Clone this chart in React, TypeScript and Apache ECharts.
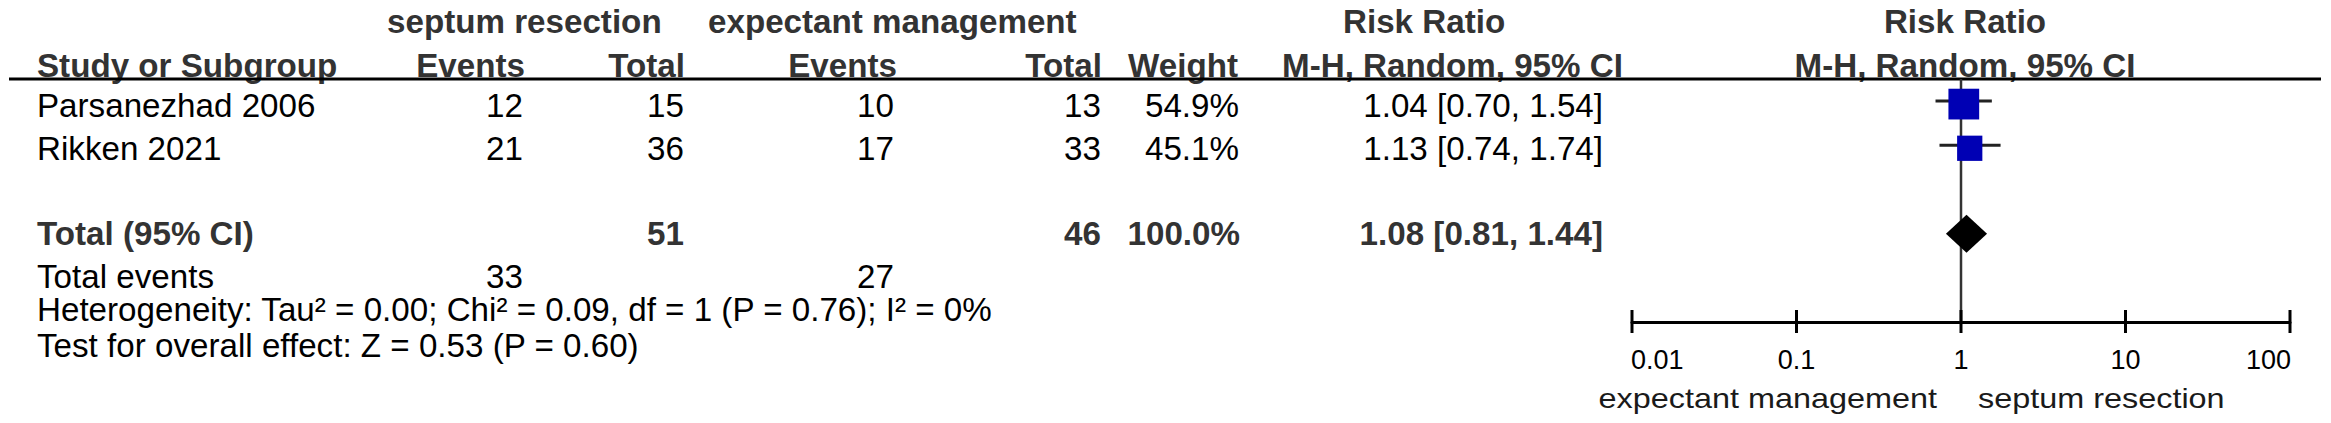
import React, { useEffect, useRef } from 'react';
import * as echarts from 'echarts';

const W = 2331;
const H = 423;
const FONT = "'Liberation Sans', Arial, Helvetica, sans-serif";

// ---- data ----
const studies = ['Parsanezhad 2006', 'Rikken 2021'];
const septumEvents = [12, 21];
const septumTotal = [15, 36];
const expectEvents = [10, 17];
const expectTotal = [13, 33];
const weights = [54.9, 45.1];
const riskRatio = [1.04, 1.13];
const ciLow = [0.7, 0.74];
const ciHigh = [1.54, 1.74];

const totalLabel = 'Total (95% CI)';
const totalSeptum = 51;
const totalExpect = 46;
const totalWeight = 100.0;
const pooledRR = 1.08;
const pooledLow = 0.81;
const pooledHigh = 1.44;
const totalEventsSeptum = 33;
const totalEventsExpect = 27;
const heterogeneityText = 'Heterogeneity: Tau² = 0.00; Chi² = 0.09, df = 1 (P = 0.76); I² = 0%';
const overallText = 'Test for overall effect: Z = 0.53 (P = 0.60)';

const tickValues = [0.01, 0.1, 1, 10, 100];
const tickLabels = ['0.01', '0.1', '1', '10', '100'];
const favoursLeft = 'expectant management';
const favoursRight = 'septum resection';

const groupHeaders = ['septum resection', 'expectant management', 'Risk Ratio'];
const colHeaders = ['Study or Subgroup', 'Events', 'Total', 'Events', 'Total', 'Weight', 'M-H, Random, 95% CI'];

// plot row positions (value-axis units)
const studyRows = [0.5, 1.5];
const totalRow = 3.5;
const Y_MAX = 5.5;

const fmtCI = (r: number, l: number, h: number) => `${r.toFixed(2)} [${l.toFixed(2)}, ${h.toFixed(2)}]`;

const TSIZE = 34;
const TSX = 0.976;

type TOpts = { bold?: boolean; color?: string; size?: number; sx?: number };
const txt = (text: string | number, x: number, y: number, align: string = 'left', o: TOpts = {}) => ({
  type: 'text',
  x,
  y,
  silent: true,
  scaleX: o.sx ?? TSX,
  style: {
    text: String(text),
    font: `${o.bold ? 'bold ' : ''}${o.size ?? TSIZE}px ${FONT}`,
    fill: o.color ?? '#000',
    textAlign: align,
    textVerticalAlign: 'middle',
  },
});

export default function App() {
  const ref = useRef<HTMLDivElement>(null);

  useEffect(() => {
    document.body.style.margin = '0';
    const chart = echarts.init(ref.current!, null, { renderer: 'svg' });

    const HB = { bold: true, color: '#333' };
    const col = { study: 37, e1: 523, t1: 684, e2: 894, t2: 1101, w: 1239, rr: 1603 };
    const rowTextY = [105.5, 148.5];
    const graphic: any[] = [];

    // headers
    const h1 = 21;
    const h2 = 65.5;
    graphic.push(txt(groupHeaders[0], 387, h1, 'left', HB));
    graphic.push(txt(groupHeaders[1], 708, h1, 'left', HB));
    graphic.push(txt(groupHeaders[2], 1343, h1, 'left', HB));
    graphic.push(txt(groupHeaders[2], 1965, h1, 'center', HB));
    graphic.push(txt(colHeaders[0], 37, h2, 'left', HB));
    graphic.push(txt(colHeaders[1], 525, h2, 'right', HB));
    graphic.push(txt(colHeaders[2], 685, h2, 'right', HB));
    graphic.push(txt(colHeaders[3], 897, h2, 'right', HB));
    graphic.push(txt(colHeaders[4], 1102, h2, 'right', HB));
    graphic.push(txt(colHeaders[5], 1238, h2, 'right', HB));
    graphic.push(txt(colHeaders[6], 1282, h2, 'left', HB));
    graphic.push(txt(colHeaders[6], 1965, h2, 'center', HB));
    graphic.push({
      type: 'line',
      silent: true,
      shape: { x1: 9, y1: 79, x2: 2321, y2: 79 },
      style: { stroke: '#000', lineWidth: 3 },
    });

    // study rows
    studies.forEach((s, i) => {
      const y = rowTextY[i];
      graphic.push(txt(s, col.study, y));
      graphic.push(txt(septumEvents[i], col.e1, y, 'right'));
      graphic.push(txt(septumTotal[i], col.t1, y, 'right'));
      graphic.push(txt(expectEvents[i], col.e2, y, 'right'));
      graphic.push(txt(expectTotal[i], col.t2, y, 'right'));
      graphic.push(txt(`${weights[i].toFixed(1)}%`, col.w, y, 'right'));
      graphic.push(txt(fmtCI(riskRatio[i], ciLow[i], ciHigh[i]), col.rr, y, 'right'));
    });

    // total row
    const ty = 233;
    graphic.push(txt(totalLabel, col.study, ty, 'left', HB));
    graphic.push(txt(totalSeptum, col.t1, ty, 'right', HB));
    graphic.push(txt(totalExpect, col.t2, ty, 'right', HB));
    graphic.push(txt(`${totalWeight.toFixed(1)}%`, col.w + 1, ty, 'right', HB));
    graphic.push(txt(fmtCI(pooledRR, pooledLow, pooledHigh), col.rr, ty, 'right', HB));

    graphic.push(txt('Total events', col.study, 276.5));
    graphic.push(txt(totalEventsSeptum, col.e1, 276.5, 'right'));
    graphic.push(txt(totalEventsExpect, col.e2, 276.5, 'right'));
    graphic.push(txt(heterogeneityText, col.study, 309.5));
    graphic.push(txt(overallText, col.study, 345));

    // favours captions
    graphic.push(txt(favoursLeft, 1937, 398, 'right', { size: 27, sx: 1.2, color: '#1a1a1a' }));
    graphic.push(txt(favoursRight, 1978, 398, 'left', { size: 27, sx: 1.2, color: '#1a1a1a' }));

    const option: any = {
      animation: false,
      grid: {
        left: 1632,
        right: W - 2290,
        top: 79,
        bottom: H - 322,
        containLabel: false,
        outerBoundsMode: 'none',
      },
      xAxis: {
        type: 'log',
        logBase: 10,
        min: 0.01,
        max: 100,
        axisLine: { show: true, onZero: false, lineStyle: { color: '#000', width: 3 } },
        axisTick: { show: false },
        axisLabel: { show: false },
        splitLine: { show: false },
      },
      yAxis: { type: 'value', min: 0, max: Y_MAX, inverse: true, show: false },
      series: [
        {
          type: 'line',
          data: [
            [1, 0],
            [1, Y_MAX],
          ],
          symbol: 'none',
          silent: true,
          lineStyle: { color: '#333', width: 2.5 },
          z: 1,
        },
        {
          type: 'custom',
          clip: false,
          silent: true,
          data: studies.map((_, i) => [ciLow[i], ciHigh[i], studyRows[i]]),
          encode: { x: [0, 1], y: 2 },
          renderItem: (_p: any, api: any) => {
            const a = api.coord([api.value(0), api.value(2)]);
            const b = api.coord([api.value(1), api.value(2)]);
            return {
              type: 'line',
              shape: { x1: a[0], y1: a[1], x2: b[0], y2: b[1] },
              style: { stroke: '#222', lineWidth: 3 },
            };
          },
          z: 2,
        },
        {
          type: 'scatter',
          silent: true,
          data: studies.map((_, i) => [riskRatio[i], studyRows[i], weights[i]]),
          symbol: 'rect',
          symbolSize: (v: number[]) => v[2] * 0.56,
          symbolOffset: [0, 3],
          itemStyle: { color: '#0000b4', opacity: 1 },
          z: 3,
        },
        {
          type: 'custom',
          clip: false,
          silent: true,
          data: [[pooledLow, pooledRR, pooledHigh, totalRow]],
          encode: { x: [0, 1, 2], y: 3 },
          renderItem: (_p: any, api: any) => {
            const l = api.coord([api.value(0), api.value(3)]);
            const c = api.coord([api.value(1), api.value(3)]);
            const h = api.coord([api.value(2), api.value(3)]);
            return {
              type: 'polygon',
              shape: {
                points: [
                  [l[0], l[1]],
                  [c[0], c[1] - 19],
                  [h[0], h[1]],
                  [c[0], c[1] + 19],
                ],
              },
              style: { fill: '#000' },
            };
          },
          z: 4,
        },
        {
          type: 'custom',
          clip: false,
          silent: true,
          data: tickValues.map((v) => [v, Y_MAX]),
          encode: { x: 0, y: 1 },
          renderItem: (params: any, api: any) => {
            const p = api.coord([api.value(0), api.value(1)]);
            const i = params.dataIndex;
            const last = tickValues.length - 1;
            const align = i === 0 ? 'left' : i === last ? 'right' : 'center';
            return {
              type: 'group',
              children: [
                {
                  type: 'line',
                  shape: { x1: p[0], y1: p[1] - 12, x2: p[0], y2: p[1] + 11 },
                  style: { stroke: '#000', lineWidth: 3 },
                },
                {
                  type: 'text',
                  x: p[0] + (i === 0 ? -1 : i === last ? 1 : 0),
                  y: p[1] + 38,
                  scaleX: 1.0,
                  style: {
                    text: tickLabels[i],
                    font: `27px ${FONT}`,
                    fill: '#000',
                    textAlign: align,
                    textVerticalAlign: 'middle',
                  },
                },
              ],
            };
          },
          z: 2,
        },
      ],
      graphic,
    };

    chart.setOption(option);
    return () => chart.dispose();
  }, []);

  return <div ref={ref} style={{ width: W, height: H }} />;
}
